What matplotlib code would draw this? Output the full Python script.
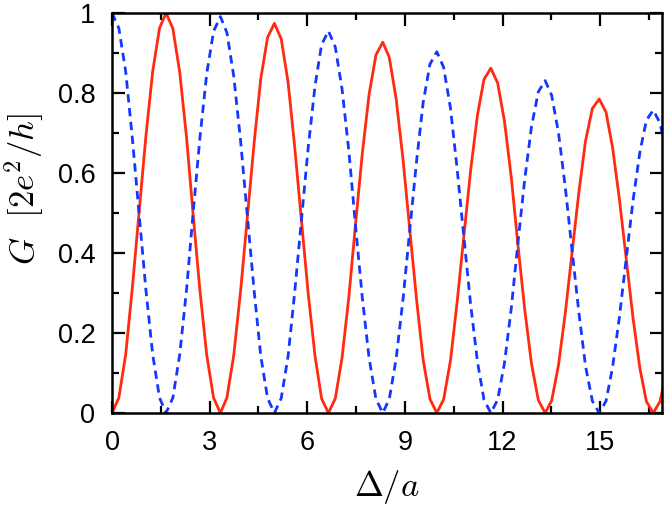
import matplotlib
matplotlib.use('Agg')
import matplotlib.pyplot as plt
from matplotlib.ticker import MultipleLocator

# Delta/a sample points
delta = [0.00, 0.21, 0.42, 0.62, 0.83, 1.04, 1.25, 1.46, 1.66, 1.87,
         2.08, 2.29, 2.49, 2.70, 2.91, 3.12, 3.33, 3.53, 3.74, 3.95,
         4.16, 4.37, 4.57, 4.78, 4.99, 5.20, 5.41, 5.61, 5.82, 6.03,
         6.24, 6.44, 6.65, 6.86, 7.07, 7.28, 7.48, 7.69, 7.90, 8.11,
         8.32, 8.52, 8.73, 8.94, 9.15, 9.36, 9.56, 9.77, 9.98, 10.19,
         10.40, 10.60, 10.81, 11.02, 11.23, 11.43, 11.64, 11.85, 12.06, 12.27,
         12.47, 12.68, 12.89, 13.10, 13.31, 13.51, 13.72, 13.93, 14.14, 14.35,
         14.55, 14.76, 14.97, 15.18, 15.38, 15.59, 15.80, 16.01, 16.22, 16.42,
         16.63, 16.84, 17.05]

# conductance, red solid curve
g_red = [0.000, 0.038, 0.146, 0.309, 0.500, 0.691, 0.854, 0.962, 1.000, 0.961,
         0.852, 0.689, 0.498, 0.307, 0.145, 0.038, 0.000, 0.038, 0.144, 0.304,
         0.491, 0.678, 0.835, 0.939, 0.974, 0.935, 0.827, 0.668, 0.482, 0.297,
         0.141, 0.036, 0.000, 0.036, 0.139, 0.292, 0.470, 0.648, 0.797, 0.895,
         0.927, 0.889, 0.786, 0.635, 0.458, 0.282, 0.133, 0.035, 0.000, 0.034,
         0.131, 0.274, 0.441, 0.607, 0.745, 0.834, 0.862, 0.825, 0.729, 0.588,
         0.423, 0.260, 0.123, 0.032, 0.000, 0.031, 0.120, 0.251, 0.404, 0.555,
         0.680, 0.761, 0.785, 0.752, 0.664, 0.535, 0.386, 0.237, 0.112, 0.029,
         0.000, 0.029, 0.110]

# conductance, blue dashed curve
g_blue = [1.000, 0.962, 0.854, 0.691, 0.500, 0.309, 0.146, 0.038, 0.000, 0.038,
          0.146, 0.308, 0.498, 0.687, 0.848, 0.954, 0.991, 0.951, 0.842, 0.681,
          0.491, 0.303, 0.143, 0.037, 0.000, 0.037, 0.142, 0.299, 0.482, 0.665,
          0.819, 0.921, 0.955, 0.915, 0.809, 0.653, 0.470, 0.289, 0.137, 0.035,
          0.000, 0.035, 0.135, 0.283, 0.458, 0.631, 0.776, 0.872, 0.903, 0.864,
          0.762, 0.614, 0.441, 0.271, 0.128, 0.033, 0.000, 0.033, 0.125, 0.263,
          0.423, 0.583, 0.716, 0.803, 0.831, 0.794, 0.700, 0.563, 0.404, 0.248,
          0.117, 0.030, 0.000, 0.030, 0.114, 0.239, 0.386, 0.531, 0.652, 0.732,
          0.757, 0.725, 0.640]

plt.rcParams['font.family'] = ['Liberation Sans', 'DejaVu Sans']
plt.rcParams['mathtext.fontset'] = 'cm'

fig = plt.figure(figsize=(6.64, 5.11), dpi=100)
ax = fig.add_axes([0.1687, 0.1918, 0.8283, 0.7828])

ax.plot(delta, g_red, color='#ff2a10', lw=2.0, solid_joinstyle='round')
ax.plot(delta, g_blue, color='#1436ff', lw=2.0, dashes=(3.0, 2.0))

ax.set_xlim(0, 16.9)
ax.set_ylim(0, 1)
ax.xaxis.set_major_locator(MultipleLocator(3))
ax.xaxis.set_minor_locator(MultipleLocator(1.5))
ax.yaxis.set_minor_locator(MultipleLocator(0.1))
ax.set_yticks([0, 0.2, 0.4, 0.6, 0.8, 1.0])
ax.set_yticklabels(['0', '0.2', '0.4', '0.6', '0.8', '1'])

for s in ax.spines.values():
    s.set_linewidth(1.8)
ax.tick_params(which='both', direction='in', top=True, right=True, width=1.6,
               labelsize=19.5, pad=12)
ax.tick_params(which='major', length=9)
ax.tick_params(which='minor', length=5)

ax.set_xlabel(r'$\Delta/a$', fontsize=25)
ax.set_ylabel(r'$G\ \ [2e^2/h]$', fontsize=25)
ax.xaxis.set_label_coords(0.5, -0.138)
ax.yaxis.set_label_coords(-0.12, 0.56)

fig.savefig('out.png', dpi=100)
